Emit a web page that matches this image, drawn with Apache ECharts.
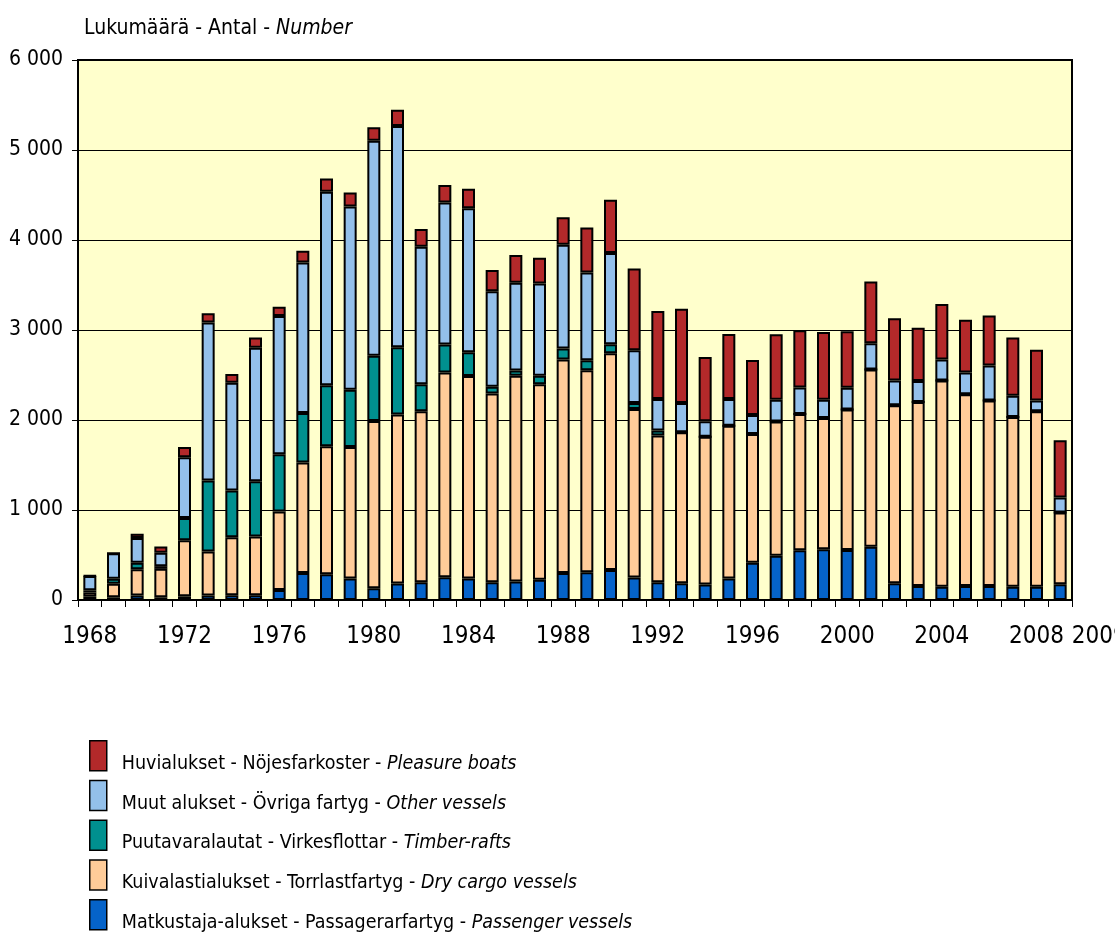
<!DOCTYPE html>
<html>
<head>
<meta charset="utf-8">
<script src="https://cdn.jsdelivr.net/npm/echarts@6/dist/echarts.min.js"></script>
<style>
html,body{margin:0;padding:0;background:#fff;}
#chart{width:1115px;height:938px;}
</style>
</head>
<body>
<div id="chart"></div>
<script>
const years = ['1968','1969','1970','1971','1972','1973','1974','1975','1976','1977','1978','1979',
  '1980','1981','1982','1983','1984','1985','1986','1987','1988','1989',
  '1990','1991','1992','1993','1994','1995','1996','1997','1998','1999',
  '2000','2001','2002','2003','2004','2005','2006','2007','2008','2009'];

const passenger = [35,30,49,30,41,50,53,53,111,299,287,238,
  131,184,197,254,238,197,205,225,299,307,
  332,251,196,185,173,240,413,491,554,565,
  555,592,185,155,148,155,155,148,148,174];
const dryCargo = [48,150,293,316,623,488,644,652,873,1230,1422,1463,
  1857,1877,1901,2275,2250,2098,2287,2173,2373,2246,
  2410,1871,1631,1678,1642,1697,1432,1491,1512,1457,
  1563,1970,1978,2045,2292,2130,2063,1885,1948,798];
const timber = [25,57,72,30,246,791,520,615,635,549,676,635,
  725,746,300,311,266,74,57,94,123,111,
  99,66,55,0,0,0,0,0,0,0,
  0,0,0,0,0,0,0,0,0,0];
const other = [160,282,274,150,676,1754,1197,1483,1537,1672,2152,2037,
  2389,2459,1528,1578,1598,1061,976,1024,1152,975,
  1015,587,350,325,170,295,210,243,296,203,
  241,292,277,233,233,244,388,237,122,167];
const pleasure = [3,0,49,68,115,102,98,115,102,131,147,156,
  152,181,197,193,218,238,307,287,307,500,
  590,908,978,1048,716,724,613,727,634,753,
  628,684,691,591,617,584,555,647,562,635];

const seriesNames = [
  ['Matkustaja-alukset - Passagerarfartyg - ', 'Passenger vessels'],
  ['Kuivalastialukset - Torrlastfartyg - ', 'Dry cargo vessels'],
  ['Puutavaralautat - Virkesflottar - ', 'Timber-rafts'],
  ['Muut alukset - Övriga fartyg - ', 'Other vessels'],
  ['Huvialukset - Nöjesfarkoster - ', 'Pleasure boats']
];
const seriesData = [passenger, dryCargo, timber, other, pleasure];
const seriesColors = ['#0563C9', '#FFCC99', '#00908F', '#93C0EA', '#B3292A'];

const FONT = '"Liberation Sans Narrow", "Arial Narrow", "DejaVu Sans Condensed", "Liberation Sans", sans-serif';

const chart = echarts.init(document.getElementById('chart'), null, {renderer: 'canvas'});

const names = seriesNames.map(n => n[0] + n[1]);
const nameMap = {};
seriesNames.forEach(n => { nameMap[n[0] + n[1]] = n; });

const option = {
  backgroundColor: '#ffffff',
  animation: false,
  title: {
    text: '{n|Lukumäärä - Antal - }{i|Number}',
    left: 79, top: 13,
    textStyle: {
      fontWeight: 'normal',
      rich: {
        n: {fontFamily: FONT, fontSize: 21, color: '#000', fontWeight: 'normal'},
        i: {fontFamily: FONT, fontSize: 21, color: '#000', fontStyle: 'italic', fontWeight: 'normal'}
      }
    }
  },
  legend: {
    orient: 'vertical',
    left: 89, top: 740,
    padding: 0,
    height: 400,
    itemWidth: 17, itemHeight: 30, itemGap: 6,
    data: names.slice().reverse(),
    icon: 'rect',
    itemStyle: {borderColor: '#000', borderWidth: 1.5},
    formatter: function (name) {
      const n = nameMap[name];
      return '{n|' + n[0] + '}{i|' + n[1] + '}';
    },
    textStyle: {
      padding: [16, 0, 0, 10],
      rich: {
        n: {fontFamily: FONT, fontSize: 19.5, color: '#000'},
        i: {fontFamily: FONT, fontSize: 19.5, color: '#000', fontStyle: 'italic'}
      }
    }
  },
  grid: {
    left: 78, right: 43, top: 60, bottom: 338,
    outerBoundsMode: 'none',
    containLabel: false,
    show: true, backgroundColor: '#FFFFCC', borderColor: '#000', borderWidth: 2
  },
  xAxis: {
    type: 'category',
    data: years,
    boundaryGap: true,
    axisLine: {lineStyle: {color: '#000', width: 2}},
    axisTick: {show: true, interval: 0, length: 7, lineStyle: {color: '#000', width: 1}},
    axisLabel: {
      interval: function (i) { return i % 4 === 0 || i === 41; },
      margin: 25,
      hideOverlap: false,
      fontFamily: FONT, fontSize: 24, color: '#000',
      formatter: function (v) {
        if (v === '2009') return '{r|2009}';
        return v;
      },
      rich: {r: {fontFamily: FONT, fontSize: 24, color: '#000', padding: [0, 0, 0, 78]}}
    }
  },
  yAxis: {
    type: 'value',
    min: 0, max: 6000, interval: 1000,
    axisLine: {show: true, lineStyle: {color: '#000', width: 2}},
    axisTick: {show: true, length: 6, lineStyle: {color: '#000'}},
    splitLine: {lineStyle: {color: '#000', width: 1}},
    axisLabel: {
      margin: 15,
      fontFamily: FONT, fontSize: 21, color: '#000',
      formatter: function (v) { return v === 0 ? '0' : String(v).replace(/\B(?=(\d{3})+(?!\d))/g, ' '); }
    }
  },
  series: seriesData.map((d, k) => ({
    name: names[k],
    type: 'bar',
    stack: 'total',
    data: d,
    barWidth: 13,
    itemStyle: {color: seriesColors[k], borderColor: '#000', borderWidth: 2}
  }))
};
chart.setOption(option);
</script>
</body>
</html>
